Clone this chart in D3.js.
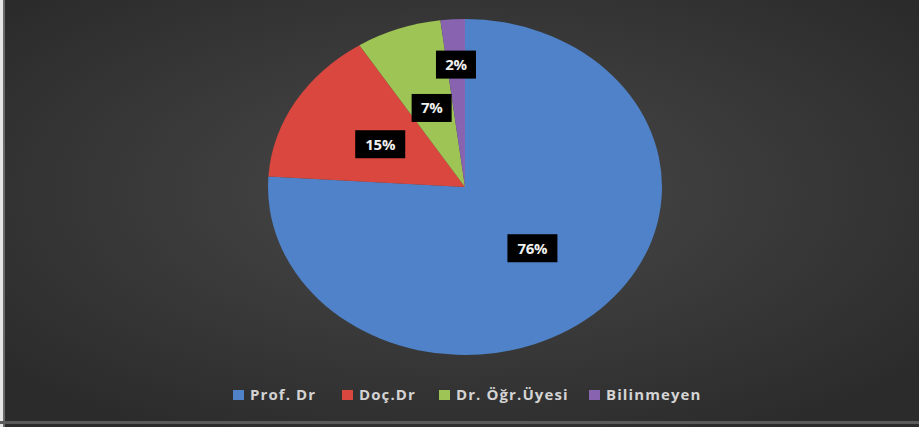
<!DOCTYPE html>
<html>
<head>
<meta charset="utf-8">
<script src="https://cdn.jsdelivr.net/npm/d3@7"></script>
<style>
  html, body { margin: 0; padding: 0; background: #fff; }
  svg { display: block; }
</style>
</head>
<body>
<svg id="chart" width="919" height="427"></svg>
<script>
const categories = ['Prof. Dr', 'Doç.Dr', 'Dr. Öğr.Üyesi', 'Bilinmeyen'];
const values = [76, 15, 7, 2];
const colors = ['#4f82c8', '#d9473f', '#9dc455', '#8763b0'];

const svg = d3.select('#chart');
const width = +svg.attr('width');
const height = +svg.attr('height');

// background with soft radial light
const defs = svg.append('defs');
const grad = defs.append('radialGradient')
  .attr('id', 'bg')
  .attr('cx', '50%').attr('cy', '45%').attr('r', '65%');
grad.append('stop').attr('offset', '0%').attr('stop-color', '#494949');
grad.append('stop').attr('offset', '100%').attr('stop-color', '#2b2b2b');

svg.append('rect')
  .attr('width', width).attr('height', height)
  .attr('fill', 'url(#bg)');

// frame edges from the scan
svg.append('rect').attr('x', 0).attr('y', 0).attr('width', 3).attr('height', height).attr('fill', '#e6e6e6');
svg.append('rect').attr('x', 3).attr('y', 0).attr('width', 2).attr('height', height).attr('fill', '#6a6a6a');
svg.append('rect').attr('x', 0).attr('y', 421).attr('width', width).attr('height', 3).attr('fill', '#5a5a5a');

// pie, drawn on a unit circle and stretched into an ellipse
const cx = 465, cy = 187, rx = 197, ry = 168;
const pie = d3.pie().sort(null).value(d => d.value);
const arcs = pie(categories.map((c, i) => ({ name: c, value: values[i], color: colors[i] })));
const arc = d3.arc().innerRadius(0).outerRadius(1);

const g = svg.append('g')
  .attr('transform', `translate(${cx},${cy}) scale(${rx},${ry})`);

g.selectAll('path')
  .data(arcs)
  .enter()
  .append('path')
    .attr('d', arc)
    .attr('fill', d => d.data.color)
    .attr('stroke', 'none');

// data labels
const labels = svg.append('g');
arcs.forEach(d => {
  const mid = (d.startAngle + d.endAngle) / 2;
  const f = d.data.value < 5 ? 0.73 : 0.5;
  const x = cx + Math.sin(mid) * rx * f;
  const y = cy - Math.cos(mid) * ry * f;
  const text = `${d.data.value}%`;
  const w = text.length > 2 ? 50 : 40;
  const lg = labels.append('g').attr('transform', `translate(${x},${y})`);
  lg.append('rect')
    .attr('x', -w / 2).attr('y', -14)
    .attr('width', w).attr('height', 28)
    .attr('fill', '#000');
  lg.append('text')
    .attr('text-anchor', 'middle')
    .attr('dy', '0.36em')
    .attr('fill', '#f0f0f0')
    .attr('font-family', 'Open Sans, sans-serif')
    .attr('font-weight', 'bold')
    .attr('font-size', 15)
    .attr('letter-spacing', -0.3)
    .text(text);
});

// legend
const legendX = [233, 342, 439, 589];
const legend = svg.append('g');
categories.forEach((c, i) => {
  const item = legend.append('g').attr('transform', `translate(${legendX[i]},395)`);
  item.append('rect')
    .attr('x', 0).attr('y', -5)
    .attr('width', 11).attr('height', 10)
    .attr('fill', colors[i]);
  item.append('text')
    .attr('x', 17)
    .attr('dy', '0.35em')
    .attr('fill', '#d4d4d4')
    .attr('font-family', 'Open Sans, sans-serif')
    .attr('font-weight', 'bold')
    .attr('font-size', 15)
    .attr('letter-spacing', 1.1)
    .text(c);
});
</script>
</body>
</html>
